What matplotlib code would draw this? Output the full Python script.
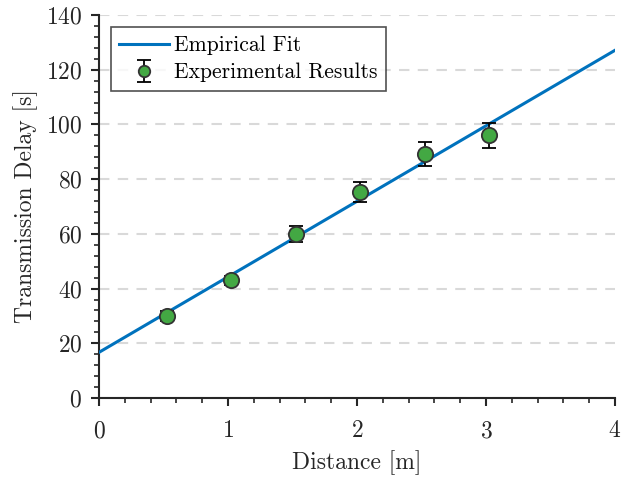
import matplotlib
matplotlib.use("Agg")
import matplotlib.pyplot as plt
from matplotlib.ticker import MultipleLocator
import numpy as np

# data
distance = [0.525, 1.025, 1.525, 2.025, 2.525, 3.025]
delay = [30.0, 43.0, 60.0, 75.2, 89.1, 96.0]
delay_err = [1.9, 1.5, 2.8, 3.7, 4.4, 4.7]

fit_x = [0, 4]
fit_intercept = 16.7
fit_slope = 27.6

plt.rcParams["font.family"] = "serif"
plt.rcParams["font.serif"] = ["cmr10", "DejaVu Serif"]
plt.rcParams["mathtext.fontset"] = "cm"
plt.rcParams["axes.formatter.use_mathtext"] = True

fig = plt.figure(figsize=(6.32, 4.79), dpi=100)
ax = fig.add_axes([0.1566, 0.169, 0.8165, 0.7997])

fx = np.array(fit_x, dtype=float)
ax.plot(fx, fit_intercept + fit_slope * fx, color="#0072BD", lw=2.2,
        label="Empirical Fit", zorder=3)
ax.errorbar(distance, delay, yerr=delay_err, fmt="o", color="black",
            ecolor="black", elinewidth=1.3, capsize=5, capthick=1.3,
            markerfacecolor="#43a843", markeredgecolor="#333333",
            markeredgewidth=1.3, markersize=11, label="Experimental Results",
            zorder=4)

ax.set_xlim(0, 4)
ax.set_ylim(0, 140)
ax.xaxis.set_major_locator(MultipleLocator(1))
ax.xaxis.set_minor_locator(MultipleLocator(0.2))
ax.yaxis.set_major_locator(MultipleLocator(20))
ax.yaxis.set_minor_locator(MultipleLocator(4))

for s in ["top", "right"]:
    ax.spines[s].set_visible(False)
for s in ["left", "bottom"]:
    ax.spines[s].set_color("#262626")
    ax.spines[s].set_linewidth(1.5)

ax.tick_params(which="major", direction="out", length=6, width=1.5,
               colors="#262626", labelsize=17, labelcolor="#262626")
ax.tick_params(axis="x", which="major", pad=10)
ax.tick_params(axis="y", which="major", pad=6)
ax.tick_params(which="minor", direction="out", length=3.5, width=1.2,
               colors="#262626")

ax.yaxis.grid(True, which="major", color="#d9d9d9", linestyle=(0, (5, 4)),
              linewidth=1.5)
ax.set_axisbelow(True)

ax.set_xlabel("Distance [m]", fontsize=17, color="#262626", labelpad=6)
ax.set_ylabel("Transmission Delay [s]", fontsize=17, color="#262626",
              labelpad=6)

leg = ax.legend(loc="upper left", bbox_to_anchor=(0.023, 0.968), fontsize=15.5,
                frameon=True, fancybox=False, edgecolor="#262626",
                handlelength=2.3, borderpad=0.4, labelspacing=0.35,
                handletextpad=0.25, borderaxespad=0.0, markerscale=0.75)
leg.get_frame().set_linewidth(1.2)

fig.savefig("out.png", dpi=100)
